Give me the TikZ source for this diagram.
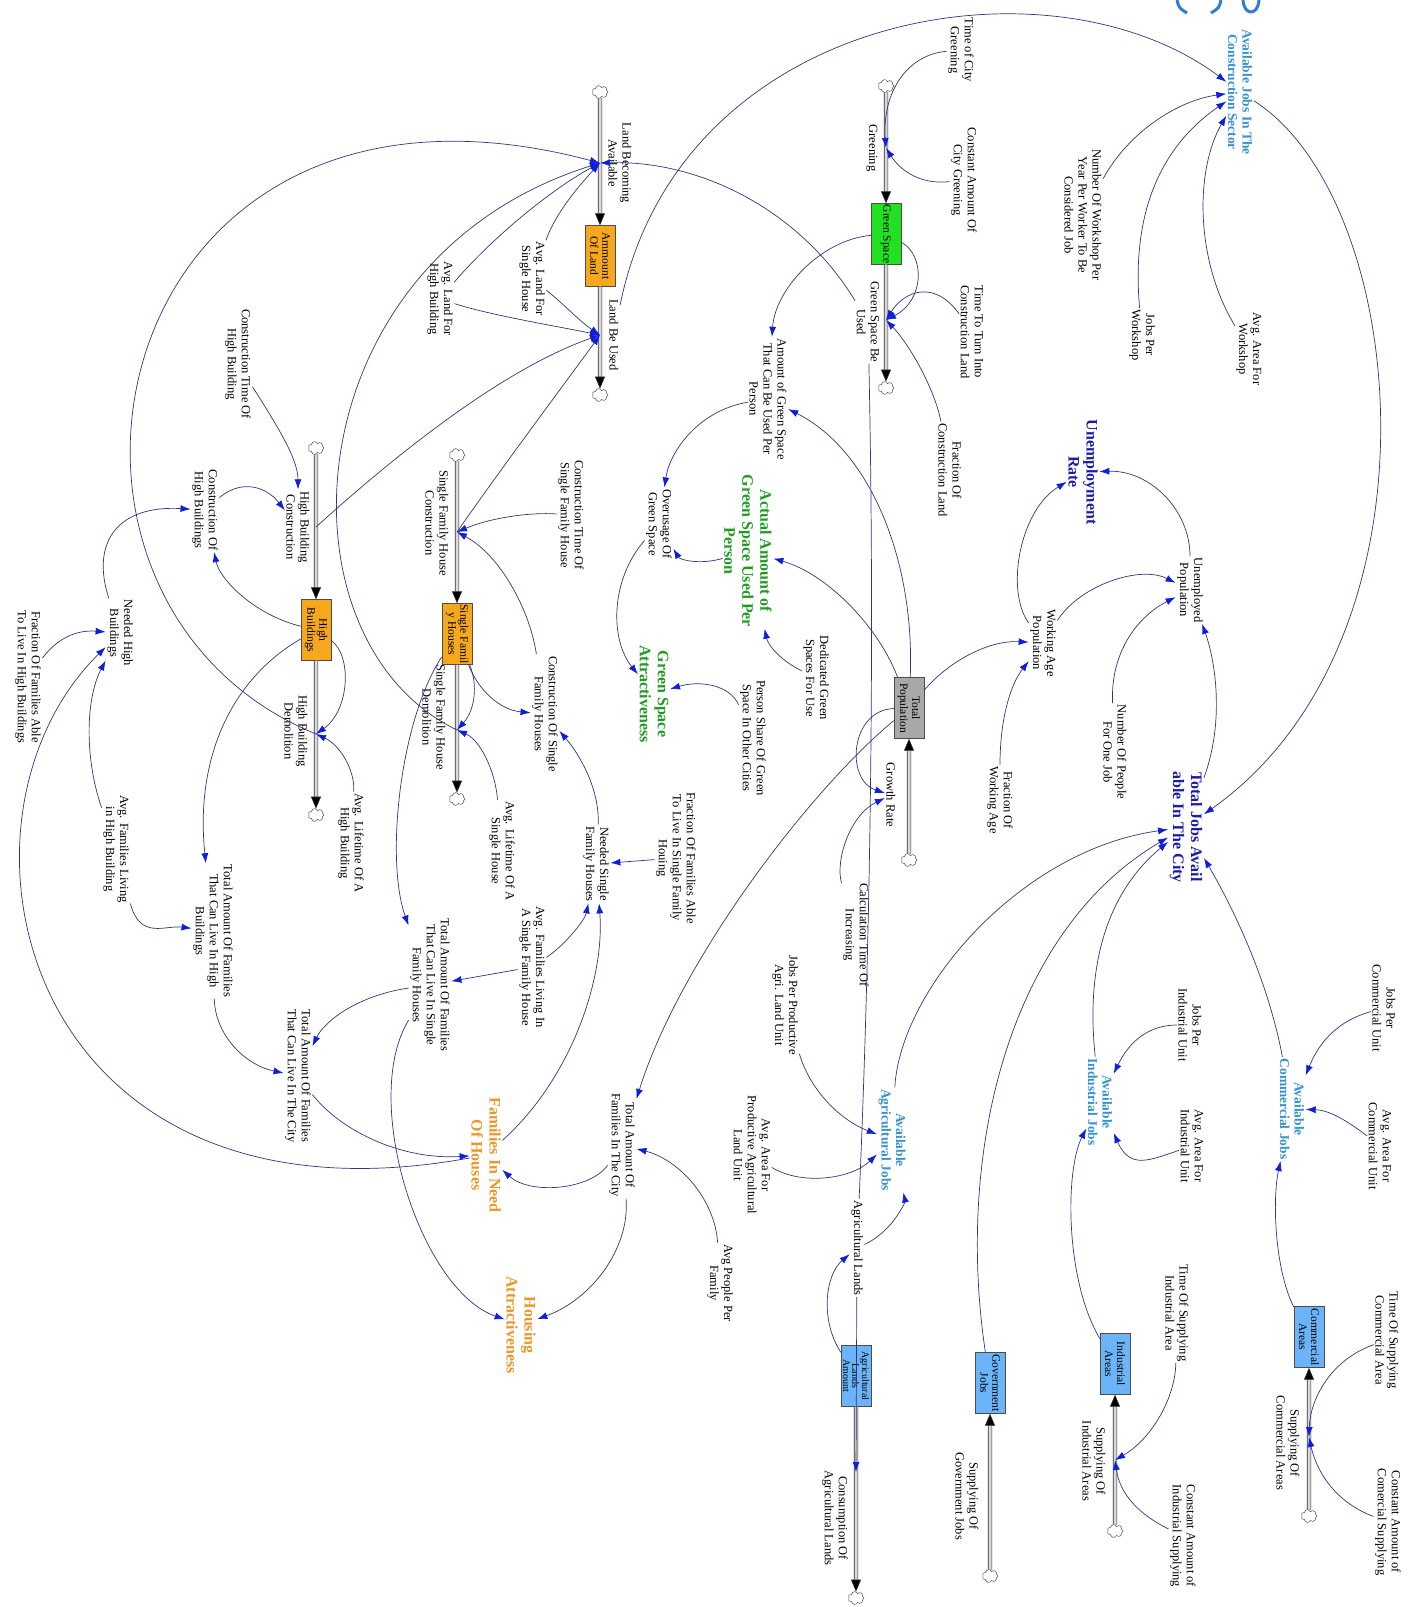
\documentclass[tikz,border=0pt]{standalone}
\usepackage{fontspec}
\setmainfont{Liberation Serif}
\usetikzlibrary{arrows.meta,shapes.symbols}
\definecolor{Link}{HTML}{34347E}
\definecolor{Tip}{HTML}{0F1ED8}
\definecolor{StockOrange}{HTML}{F5A81E}
\definecolor{StockGreen}{HTML}{22E022}
\definecolor{StockGray}{HTML}{A8A8A8}
\definecolor{StockBlue}{HTML}{6BB4F7}
\definecolor{JobBlue}{HTML}{3591CF}
\definecolor{RateBlue}{HTML}{1C1CA6}
\definecolor{GreenVar}{HTML}{1F9A22}
\definecolor{HouseOrange}{HTML}{EA9628}
\definecolor{CutBlue}{HTML}{2C7FD0}
\begin{document}
\begin{tikzpicture}[
  x=1pt, y=-1pt,
  every node/.style={rotate=-90, align=center},
  aux/.style={font=\fontsize{12.5}{14}\selectfont, inner sep=1.5pt},
  keyvar/.style={font=\fontsize{16}{18}\selectfont\bfseries, inner sep=1.5pt},
  jobvar/.style={font=\fontsize{13.5}{14.5}\selectfont\bfseries, text=JobBlue, inner sep=1.5pt},
  stock/.style={draw=black!70, minimum width=61pt, minimum height=30pt, inner sep=1pt, font=\fontsize{11.5}{12}\selectfont},
  cloudnode/.style={cloud, cloud puffs=7, draw=black!70, fill=white, minimum width=13pt, minimum height=16pt, inner sep=0pt, line width=0.5pt},
  pipe/.style={draw=black!80, line width=0.6pt, double=gray!30, double distance=3pt, -{Triangle[length=12pt,width=10pt,fill=black]}},
  link/.style={draw=Link, line width=0.7pt, -{Latex[length=10pt,width=7pt,color=Tip]}},
  plainlink/.style={draw=Link, line width=0.7pt},
  cutmark/.style={draw=CutBlue, line width=3pt}
]
\useasboundingbox (0,0) rectangle (1415,1607);

\node[cloudnode] (cl1) at (600,92) {};
\node[cloudnode] (cl2) at (600,395) {};
\node[cloudnode] (cl3) at (886,86) {};
\node[cloudnode] (cl4) at (886,388) {};
\node[cloudnode] (cl5) at (316,448) {};
\node[cloudnode] (cl6) at (316,815) {};
\node[cloudnode] (cl7) at (457,455) {};
\node[cloudnode] (cl8) at (457,799) {};
\node[cloudnode] (cl9) at (909,860) {};
\node[cloudnode] (cl10) at (856,1598) {};
\node[cloudnode] (cl11) at (990,1576) {};
\node[cloudnode] (cl12) at (1115,1531) {};
\node[cloudnode] (cl13) at (1309,1516) {};

\node[stock,fill=StockOrange] (landS) at (600,256) {Ammount\\Of Land};
\node[stock,fill=StockGreen] (greenS) at (886,234) {Green Space};
\node[stock,fill=StockOrange] (highS) at (316,630) {High\\Buildings};
\node[stock,fill=StockOrange] (singleS) at (457,634) {Single Famil\\y Houses};
\node[stock,fill=StockGray] (popS) at (909,708) {Total\\Population};
\node[stock,fill=StockBlue,font=\fontsize{10}{9}\selectfont] (agriS) at (856,1376) {Agricultural\\Lands\\Amount};
\node[stock,fill=StockBlue] (govS) at (990,1383) {Government\\Jobs};
\node[stock,fill=StockBlue] (indS) at (1115,1364) {Industrial\\Areas};
\node[stock,fill=StockBlue] (comS) at (1309,1337) {Commercial\\Areas};

\coordinate (lbaV) at (600,163);
\coordinate (lbuV) at (600,335);
\coordinate (grnV) at (886,148);
\coordinate (gsbuV) at (886,320);
\coordinate (hbcV) at (316,527);
\coordinate (hbdV) at (316,734);
\coordinate (sfhcV) at (457,532);
\coordinate (sfhdV) at (457,730);
\coordinate (caV) at (856,1472);
\coordinate (siaV) at (1115,1460);
\coordinate (scaV) at (1309,1437);

\draw[pipe] (cl1) -- (landS);
\draw[pipe] (landS) -- (cl2);
\draw[pipe] (cl3) -- (greenS);
\draw[pipe] (greenS) -- (cl4);
\draw[pipe] (cl5) -- (highS);
\draw[pipe] (highS) -- (cl6);
\draw[pipe] (cl7) -- (singleS);
\draw[pipe] (singleS) -- (cl8);
\draw[pipe] (cl9) -- (popS);
\draw[pipe] (agriS) -- (cl10);
\draw[pipe] (cl11) -- (govS);
\draw[pipe] (cl12) -- (indS);
\draw[pipe] (cl13) -- (comS);

\node[aux] (lbaL) at (620,163) {Land Becoming\\Available};
\node[aux] (lbuL) at (614,335) {Land Be Used};
\node[aux] (greeningL) at (872,148) {Greening};
\node[aux] (gsbuL) at (868,322) {Green Space Be\\Used};
\node[aux] (hbcL) at (298,527) {High Building\\Construction};
\node[aux] (hbdL) at (296,731) {High Building\\Demolition};
\node[aux] (sfhcL) at (437,523) {Single Family House\\Construction};
\node[aux] (sfhdL) at (434,717) {Single Family House\\Demolition};
\node[aux] (grL) at (891,795) {Growth Rate};
\node[aux] (consL) at (835,1518) {Consumption Of\\Agricultural Lands};
\node[aux] (sgjL) at (967,1496) {Supplying Of\\Government Jobs};
\node[aux] (siaL) at (1094,1461) {Supplying Of\\Industrial Areas};
\node[aux] (scaL) at (1288,1443) {Supplying Of\\Commercial Areas};

\node[aux] (alfhb) at (440,299) {Avg. Land For\\High Building};
\node[aux] (ctohb) at (238,364) {Construction Time Of\\High Building};
\node[aux] (alfsh) at (532,279) {Avg. Land For\\Single House};
\node[aux] (tocg) at (961,50) {Time of City\\Greening};
\node[aux] (caocg) at (964,180) {Constant Amount Of\\City Greening};
\node[jobvar] (ajcs) at (1240,92) {Available Jobs In The\\Construction Sector};
\node[aux] (nowp) at (1083,215) {Number Of Workshop Per\\Year Per Worker To Be\\Considered Job};
\node[aux] (jpw) at (1142,335) {Jobs Per\\Workshop};
\node[aux] (aafw) at (1249,349) {Avg. Area For\\Workshop};
\node[aux] (tttcl) at (972,332) {Time To Turn Into\\Construction Land};
\node[aux] (focl) at (950,470) {Fraction Of\\Construction Land};
\node[keyvar,text=RateBlue] (unrate) at (1083,472) {Unemployment\\Rate};
\node[aux] (unpop) at (1190,590) {Unemployed\\Population};
\node[aux] (wap) at (1043,643) {Working Age\\Population};
\node[aux] (nopfoj) at (1115,752) {Number Of People\\For One Job};
\node[aux] (fowa) at (1000,800) {Fraction Of\\Working Age};
\node[keyvar,text=RateBlue] (tjob) at (1186,827) {Total Jobs Avail\\able In The City};

\node[aux] (aogs) at (768,399) {Amount of Green Space\\That Can Be Used Per\\Person};
\node[aux] (ctosfh) at (571,515) {Construction Time Of\\Single Family House};
\node[aux] (overuse) at (659,524) {Overusage Of\\Green Space};
\node[keyvar,text=GreenVar] (actual) at (748,551) {Actual Amount of\\Green Space Used Per\\Person};
\node[keyvar,text=GreenVar] (gsattr) at (654,694) {Green Space\\Attractiveness};
\node[aux] (dgsfu) at (816,678) {Dedicated Green\\Spaces For Use};
\node[aux] (psog) at (753,738) {Person Share Of Green\\Space In Other Cities};
\node[aux] (cosfh) at (545,714) {Construction Of Single\\Family Houses};

\node[aux] (cohb) at (205,510) {Construction Of\\High Buildings};
\node[aux] (nhb) at (120,633) {Needed High\\Buildings};
\node[aux] (fofhb) at (28,677) {Fraction Of Families Able\\To Live In High Buildings};
\node[aux] (alohb) at (351,843) {Avg. Lifetime Of A\\High Building};
\node[aux] (aflhb) at (116,849) {Avg. Families Living\\in High Building};
\node[aux] (tafhb) at (213,931) {Total Amount Of Families\\That Can Live In High\\Buildings};
\node[aux] (tafsfh) at (430,985) {Total Amount Of Families\\That Can Live In Single\\Family Houses};
\node[aux] (tafcity) at (298,1076) {Total Amount Of Families\\That Can Live In The City};

\node[aux] (alosh) at (502,851) {Avg. Lifetime Of A\\Single House};
\node[aux] (nsfh) at (596,864) {Needed Single\\Family Houses};
\node[aux] (fofsfh) at (676,858) {Fraction Of Families Able\\To Live In Single Family\\Houing};
\node[aux] (aflsfh) at (532,967) {Avg. Families Living In\\A Single Family House};
\node[aux] (ctoi) at (856,935) {Calculation Time Of\\Increasing};
\node[aux] (jppa) at (785,1005) {Jobs Per Productive\\Agri. Land Unit};
\node[jobvar] (agjobs) at (892,1140) {Available\\Agricultural Jobs};
\node[aux] (aafpa) at (752,1155) {Avg. Area For\\Productive Agricultural\\Land Unit};
\node[aux] (tafc) at (622,1145) {Total Amount Of\\Families In The City};
\node[keyvar,text=HouseOrange] (finoh) at (486,1155) {Families In Need\\Of Houses};
\node[keyvar,text=HouseOrange] (hattr) at (521,1325) {Housing\\Attractiveness};
\node[aux] (appf) at (720,1283) {Avg People Per\\Family};
\node[aux] (agland) at (857,1248) {Agricultural Lands};

\node[aux] (jpiu) at (1190,1025) {Jobs Per\\Industrial Unit};
\node[jobvar] (injobs) at (1100,1102) {Available\\Industrial Jobs};
\node[aux] (aafiu) at (1192,1146) {Avg. Area For\\Industrial Unit};
\node[aux] (jpcu) at (1384,1008) {Jobs Per\\Commercial Unit};
\node[jobvar] (cmjobs) at (1292,1109) {Available\\Commercial Jobs};
\node[aux] (aafcu) at (1380,1146) {Avg. Area For\\Commercial Unit};
\node[aux] (tosia) at (1177,1313) {Time Of Supplying\\Industrial Area};
\node[aux] (caois) at (1183,1536) {Constant Amount of\\Industrial Supplying};
\node[aux] (tosca) at (1387,1340) {Time Of Supplying\\Commercial Area};
\node[aux] (caocs) at (1388,1522) {Constant Amount of\\Comercial Supplying};

\draw[link] (hbdV) .. controls (-10,600) and (100,30) .. (lbaV);
\draw[link] (sfhdV) .. controls (270,640) and (290,260) .. (lbaV);
\draw[link] (alfhb) .. controls (490,240) and (550,190) .. (lbaV);
\draw[link] (alfsh) .. controls (555,215) and (575,190) .. (lbaV);
\draw[link] (gsbuL) .. controls (800,210) and (700,160) .. (lbaV);
\draw[link] (alfhb) .. controls (490,315) and (550,325) .. (lbuV);
\draw[link] (alfsh) .. controls (565,305) and (578,320) .. (lbuV);
\draw[link] (hbcV) .. controls (390,460) and (500,370) .. (lbuV);
\draw[link] (sfhcV) .. controls (500,470) and (560,390) .. (lbuV);
\draw[link] (lbuL) .. controls (680,10) and (1050,-50) .. (ajcs);
\draw[link] (ajcs) .. controls (1410,200) and (1450,640) .. (tjob);
\draw[link] (nowp) .. controls (1130,130) and (1180,100) .. (ajcs);
\draw[link] (jpw) .. controls (1130,200) and (1170,140) .. (ajcs);
\draw[link] (aafw) .. controls (1195,260) and (1195,170) .. (ajcs);

\draw[link] (tocg) .. controls (905,55) and (882,95) .. (grnV);
\draw[link] (caocg) .. controls (920,185) and (900,170) .. (grnV);
\draw[link] (greenS) .. controls (925,255) and (925,300) .. (gsbuV);
\draw[link] (tttcl) .. controls (935,280) and (905,290) .. (gsbuV);
\draw[link] (focl) .. controls (935,390) and (910,345) .. (gsbuV);
\draw[link] (greenS) .. controls (820,240) and (775,290) .. (aogs);
\draw[link] (popS) .. controls (915,560) and (870,450) .. (aogs);
\draw[link] (popS) .. controls (880,630) and (830,575) .. (actual);
\draw[link] (aogs) .. controls (700,410) and (670,450) .. (overuse);
\draw[link] (actual) .. controls (700,565) and (680,560) .. (overuse);
\draw[link] (overuse) .. controls (610,580) and (610,640) .. (gsattr);
\draw[link] (dgsfu) .. controls (780,660) and (768,645) .. (actual);
\draw[link] (psog) .. controls (730,685) and (700,680) .. (gsattr);
\draw[plainlink] (gsbuL) .. controls (875,650) and (870,950) .. (agland);

\draw[link] (popS) .. controls (850,710) and (845,780) .. (grL);
\draw[link] (ctoi) .. controls (835,860) and (850,815) .. (grL);
\draw[link] (popS) .. controls (810,790) and (680,960) .. (tafc);
\draw[link] (popS) .. controls (950,660) and (990,640) .. (wap);
\draw[link] (fowa) .. controls (1000,720) and (1010,685) .. (wap);
\draw[link] (wap) .. controls (1005,590) and (1020,510) .. (unrate);
\draw[link] (wap) .. controls (1080,585) and (1140,565) .. (unpop);
\draw[link] (nopfoj) .. controls (1110,650) and (1140,615) .. (unpop);
\draw[link] (unpop) .. controls (1190,510) and (1150,470) .. (unrate);
\draw[link] (tjob) .. controls (1225,720) and (1215,660) .. (unpop);

\draw[link] (agjobs) .. controls (900,990) and (1020,850) .. (tjob);
\draw[link] (govS) .. controls (955,1150) and (1010,930) .. (tjob);
\draw[link] (injobs) .. controls (1085,960) and (1110,890) .. (tjob);
\draw[link] (cmjobs) .. controls (1270,990) and (1240,920) .. (tjob);
\draw[link] (jpiu) .. controls (1150,1025) and (1130,1040) .. (injobs);
\draw[link] (aafiu) .. controls (1150,1160) and (1130,1170) .. (injobs);
\draw[link] (indS) .. controls (1065,1280) and (1065,1170) .. (injobs);
\draw[link] (jpcu) .. controls (1340,1020) and (1320,1040) .. (cmjobs);
\draw[link] (aafcu) .. controls (1340,1115) and (1325,1110) .. (cmjobs);
\draw[link] (comS) .. controls (1275,1270) and (1272,1200) .. (cmjobs);
\draw[link] (tosia) .. controls (1175,1400) and (1150,1440) .. (siaV);
\draw[link] (caois) .. controls (1140,1515) and (1120,1495) .. (siaV);
\draw[link] (tosca) .. controls (1330,1360) and (1310,1400) .. (scaV);
\draw[link] (caocs) .. controls (1330,1500) and (1315,1465) .. (scaV);

\draw[link] (jppa) .. controls (810,1090) and (840,1120) .. (agjobs);
\draw[link] (aafpa) .. controls (800,1185) and (850,1180) .. (agjobs);
\draw[link] (agriS) .. controls (820,1320) and (825,1275) .. (agland);
\draw[link] (agland) .. controls (895,1230) and (905,1200) .. (agjobs);
\draw[link] (agland) -- (caV);

\draw[link] (ctohb) .. controls (280,430) and (298,460) .. (hbcL);
\draw[link] (cohb) .. controls (240,480) and (265,485) .. (hbcL);
\draw[link] (highS) .. controls (255,615) and (220,580) .. (cohb);
\draw[link] (nhb) .. controls (90,540) and (120,505) .. (cohb);
\draw[link] (fofhb) .. controls (60,635) and (80,630) .. (nhb);
\draw[link] (finoh) .. controls (20,1240) and (-70,820) .. (nhb);
\draw[link] (aflhb) .. controls (85,760) and (85,700) .. (nhb);
\draw[link] (aflhb) .. controls (140,940) and (165,925) .. (tafhb);
\draw[link] (highS) .. controls (230,680) and (195,760) .. (tafhb);
\draw[link] (tafhb) .. controls (215,1035) and (245,1065) .. (tafcity);
\draw[link] (tafsfh) .. controls (360,995) and (325,1020) .. (tafcity);
\draw[link] (tafcity) .. controls (340,1130) and (400,1160) .. (finoh);
\draw[link] (singleS) .. controls (400,720) and (385,860) .. (tafsfh);
\draw[link] (aflsfh) -- (tafsfh);
\draw[link] (tafsfh) .. controls (360,1100) and (420,1290) .. (hattr);
\draw[link] (highS) .. controls (352,655) and (350,710) .. (hbdV);
\draw[link] (alohb) .. controls (355,770) and (340,745) .. (hbdV);

\draw[link] (finoh) .. controls (570,1080) and (605,980) .. (nsfh);
\draw[link] (fofsfh) -- (nsfh);
\draw[link] (aflsfh) .. controls (565,945) and (585,920) .. (nsfh);
\draw[link] (nsfh) .. controls (600,790) and (580,755) .. (cosfh);
\draw[link] (singleS) .. controls (478,690) and (500,710) .. (cosfh);
\draw[link] (cosfh) .. controls (530,610) and (500,555) .. (sfhcV);
\draw[link] (ctosfh) .. controls (530,512) and (490,518) .. (sfhcV);
\draw[link] (singleS) .. controls (478,685) and (475,710) .. (sfhdV);
\draw[link] (alosh) .. controls (495,770) and (480,740) .. (sfhdV);
\draw[link] (tafc) .. controls (590,1190) and (530,1195) .. (finoh);
\draw[link] (tafc) .. controls (630,1250) and (590,1300) .. (hattr);
\draw[link] (appf) .. controls (715,1200) and (680,1160) .. (tafc);

\draw[cutmark] (1177,0) .. controls (1179,8) .. (1187,13);
\draw[cutmark] (1221,0) .. controls (1219,8) .. (1211,13);
\draw[cutmark] (1243,0) .. controls (1244,16) and (1258,16) .. (1259,0);
\end{tikzpicture}
\end{document}
